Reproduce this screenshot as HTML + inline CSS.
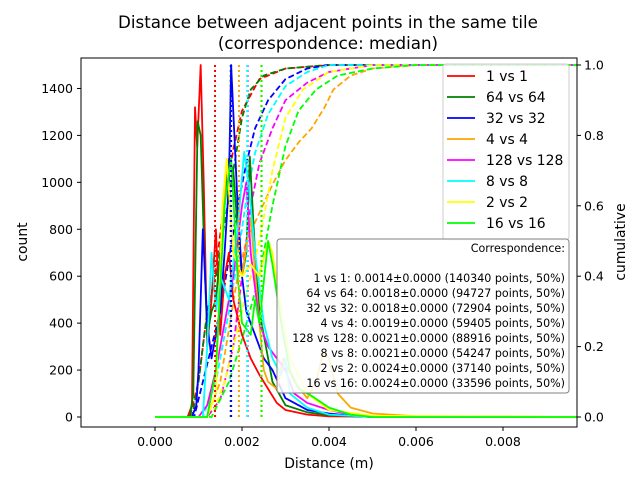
<!DOCTYPE html>
<html><head><meta charset="utf-8"><style>
body{margin:0;background:#fff;}
svg{font-family:"DejaVu Sans","Liberation Sans",sans-serif;}
</style></head><body>
<svg id="c" width="640" height="480" viewBox="0 0 640 480">
<rect width="640" height="480" fill="#fff"/>
<defs><clipPath id="clip"><rect x="81" y="58" width="496" height="369"/></clipPath></defs>
<text x="328" y="28" font-size="16.7" text-anchor="middle">Distance between adjacent points in the same tile</text>
<text x="328" y="49" font-size="16.7" text-anchor="middle">(correspondence: median)</text>
<g id="plot" clip-path="url(#clip)"></g>
<rect x="81" y="58" width="496" height="369" fill="none" stroke="#000" stroke-width="1"/>
<g id="axes"></g>
<text x="329" y="468" font-size="13.9" text-anchor="middle">Distance (m)</text>
<text transform="translate(27,242) rotate(-90)" font-size="13.9" text-anchor="middle">count</text>
<text transform="translate(625,242) rotate(-90)" font-size="13.9" text-anchor="middle">cumulative</text>
<g id="legend"></g>
<g id="annot"></g>
</svg>
<script>
const seriesNames=["1 vs 1","64 vs 64","32 vs 32","4 vs 4","128 vs 128","8 vs 8","2 vs 2","16 vs 16"];
const seriesColors=["#ff0000","#008000","#0000ff","#ffa500","#ff00ff","#00ffff","#ffff00","#00ff00"];
const xTicks=[0,0.002,0.004,0.006,0.008];
const xTickLabels=["0.000","0.002","0.004","0.006","0.008"];
const yTicks=[0,200,400,600,800,1000,1200,1400];
const y2Ticks=[0,0.2,0.4,0.6,0.8,1.0];
const y2TickLabels=["0.0","0.2","0.4","0.6","0.8","1.0"];
// histogram keypoints: [distance in mm, count]
const histRed=[[0,0],[0.75,0],[0.85,50],[0.92,1320],[0.97,1150],[1.05,1500],[1.12,1000],[1.2,300],[1.3,500],[1.4,800],[1.5,350],[1.6,600],[1.7,700],[1.8,500],[2.0,350],[2.2,250],[2.4,180],[2.6,120],[2.8,60],[3.0,30],[3.5,10],[4,3],[6,0],[9.7,0]];
const histGreen=[[0,0],[0.8,0],[0.88,100],[0.98,1260],[1.05,1200],[1.15,600],[1.2,350],[1.3,450],[1.4,500],[1.5,700],[1.6,900],[1.7,1100],[1.8,1050],[1.9,800],[2.0,600],[2.1,700],[2.18,1110],[2.3,700],[2.4,450],[2.55,300],[2.7,150],[3.0,50],[3.5,20],[4,8],[5,0],[9.7,0]];
const histBlue=[[0,0],[0.85,0],[0.95,50],[1.0,200],[1.1,800],[1.2,400],[1.3,250],[1.4,350],[1.5,450],[1.6,700],[1.7,1000],[1.75,1500],[1.8,1300],[1.9,900],[2.0,600],[2.1,450],[2.2,400],[2.3,350],[2.4,300],[2.5,250],[2.7,200],[3.0,80],[3.5,30],[4,15],[4.5,5],[5,0],[9.7,0]];
const histOrange=[[0,0],[1.2,0],[1.4,200],[1.55,800],[1.65,1100],[1.8,700],[2.0,600],[2.2,850],[2.35,500],[2.5,200],[2.6,150],[2.8,120],[2.95,250],[3.2,150],[3.5,80],[3.7,150],[3.87,275],[4.0,250],[4.2,100],[4.5,40],[5,15],[6,3],[9.7,0]];
const histMagenta=[[0,0],[1.0,0],[1.2,50],[1.4,200],[1.6,400],[1.8,600],[2.0,900],[2.1,1000],[2.2,700],[2.4,400],[2.6,300],[2.8,250],[3.0,200],[3.2,100],[3.5,60],[4,30],[4.5,10],[5,0],[9.7,0]];
const histCyan=[[0,0],[1.1,0],[1.2,300],[1.3,700],[1.4,450],[1.5,600],[1.7,500],[1.9,800],[2.05,1130],[2.15,1000],[2.3,700],[2.5,400],[2.7,250],[2.9,180],[3.0,250],[3.1,100],[3.5,40],[4,10],[5,0],[9.7,0]];
const histYellow=[[0,0],[1.2,0],[1.4,100],[1.55,900],[1.65,1100],[1.8,700],[2.0,600],[2.2,650],[2.4,600],[2.6,750],[2.7,700],[2.9,450],[3.1,250],[3.5,100],[4,30],[5,5],[9.7,0]];
const histLime=[[0,0],[1.2,0],[1.4,200],[1.6,900],[1.75,1100],[1.9,600],[2.0,400],[2.2,350],[2.3,500],[2.4,400],[2.6,750],[2.7,650],[2.9,400],[3.1,200],[3.3,120],[3.6,90],[4,40],[4.5,10],[5,0],[9.7,0]];
// cumulative keypoints: [distance in mm, fraction]
const cumRed=[[0,0],[0.8,0],[1.0,0.1],[1.15,0.25],[1.4,0.42],[1.6,0.62],[1.8,0.76],[2.0,0.87],[2.4,0.96],[3.0,0.99],[4,1],[9.7,1]];
const cumGreen=[[0,0],[0.85,0],[1.0,0.1],[1.2,0.3],[1.4,0.4],[1.6,0.55],[1.8,0.7],[2.0,0.85],[2.2,0.93],[2.5,0.97],[3,0.99],[4,1],[9.7,1]];
const cumBlue=[[0,0],[0.9,0],[1.1,0.1],[1.3,0.2],[1.5,0.3],[1.7,0.45],[1.9,0.6],[2.1,0.72],[2.3,0.82],[2.6,0.9],[3.0,0.96],[3.5,0.99],[4,1],[9.7,1]];
const cumOrange=[[0,0],[1.2,0],[1.5,0.1],[1.7,0.25],[1.9,0.4],[2.1,0.5],[2.4,0.58],[2.7,0.66],[3.0,0.73],[3.3,0.78],[3.6,0.82],[3.9,0.88],[4.1,0.93],[4.5,0.97],[5,0.99],[6,1],[9.7,1]];
const cumMagenta=[[0,0],[1.2,0],[1.5,0.05],[1.8,0.2],[2.0,0.4],[2.2,0.6],[2.4,0.72],[2.7,0.82],[3.0,0.9],[3.5,0.95],[4,0.98],[5,1],[9.7,1]];
const cumCyan=[[0,0],[1.1,0],[1.4,0.1],[1.7,0.3],[1.9,0.45],[2.1,0.62],[2.3,0.75],[2.6,0.86],[3,0.94],[3.5,0.98],[4,1],[9.7,1]];
const cumYellow=[[0,0],[1.3,0],[1.6,0.1],[2.0,0.3],[2.4,0.5],[2.7,0.7],[3.0,0.85],[3.4,0.93],[4,0.98],[5,1],[9.7,1]];
const cumLime=[[0,0],[1.3,0],[1.7,0.1],[2.0,0.22],[2.4,0.4],[2.7,0.6],[3.0,0.77],[3.3,0.87],[3.7,0.93],[4.2,0.97],[5,0.99],[6,1],[9.7,1]];
const medianPos=[1.38,1.74,1.75,1.93,2.13,2.12,2.44,2.45];
const annotLines=["1 vs 1: 0.0014±0.0000 (140340 points, 50%)","64 vs 64: 0.0018±0.0000 (94727 points, 50%)","32 vs 32: 0.0018±0.0000 (72904 points, 50%)","4 vs 4: 0.0019±0.0000 (59405 points, 50%)","128 vs 128: 0.0021±0.0000 (88916 points, 50%)","8 vs 8: 0.0021±0.0000 (54247 points, 50%)","2 vs 2: 0.0024±0.0000 (37140 points, 50%)","16 vs 16: 0.0024±0.0000 (33596 points, 50%)"];

const hists=[histRed,histGreen,histBlue,histOrange,histMagenta,histCyan,histYellow,histLime];
const cums=[cumRed,cumGreen,cumBlue,cumOrange,cumMagenta,cumCyan,cumYellow,cumLime];
const NS="http://www.w3.org/2000/svg";
function X(m){return 155+(m/0.002)*87;}
function Y(c){return 417-c*(352/1500);}
function Y2(f){return 417-f*352;}
function mk(tag,at,parent){const e=document.createElementNS(NS,tag);for(const k in at)e.setAttribute(k,at[k]);parent.appendChild(e);return e;}
const plot=document.getElementById('plot');
const axes=document.getElementById('axes');
cums.forEach((s,i)=>{
 const p=mk('polyline',{points:s.map(d=>X(d[0]/1000)+','+Y2(d[1])).join(' '),fill:'none',stroke:seriesColors[i],'stroke-width':1.8,'stroke-dasharray':'6,3'},plot);
 
 
});
hists.forEach((s,i)=>{
 const p=mk('polyline',{points:s.map(d=>X(d[0]/1000)+','+Y(d[1])).join(' '),fill:'none',stroke:seriesColors[i],'stroke-width':1.8,'stroke-linejoin':'round'},plot);
 
 
});
medianPos.forEach((m,i)=>{
 const l=mk('line',{x1:X(m/1000),x2:X(m/1000),y1:Y2(0),y2:Y2(1),stroke:seriesColors[i],'stroke-width':2,'stroke-dasharray':'2,3'},plot);
 
 
});
xTicks.forEach((t,i)=>{
 const x=X(t);
 mk('line',{x1:x,x2:x,y1:427,y2:431,stroke:'#000'},axes);
 const tx=mk('text',{x:x,y:446,'font-size':12.5,'text-anchor':'middle'},axes);tx.textContent=xTickLabels[i];
 
 
});
yTicks.forEach(t=>{
 const y=Y(t);
 mk('line',{x1:77,x2:81,y1:y,y2:y,stroke:'#000'},axes);
 const tx=mk('text',{x:73,y:y+4.5,'font-size':12.5,'text-anchor':'end'},axes);tx.textContent=t;
 
 
});
y2Ticks.forEach((t,i)=>{
 const y=Y2(t);
 mk('line',{x1:577,x2:581,y1:y,y2:y,stroke:'#000'},axes);
 const tx=mk('text',{x:584,y:y+4.5,'font-size':12.5},axes);tx.textContent=y2TickLabels[i];
 
 
});
const lg=document.getElementById('legend');
mk('rect',{x:443,y:64,width:126,height:176,rx:3,fill:'#fff','fill-opacity':0.8,stroke:'#ccc'},lg);
seriesNames.forEach((n,i)=>{
 const y=76+i*21;
 const l=mk('line',{x1:447,x2:475,y1:y,y2:y,stroke:seriesColors[i],'stroke-width':1.8},lg);
 
 
 const t=mk('text',{x:486,y:y+5,'font-size':13.9},lg);t.textContent=n;
 
 
});
const an=document.getElementById('annot');
mk('rect',{x:277,y:239,width:292,height:154,rx:3,fill:'#fff','fill-opacity':0.85,stroke:'#808080'},an);
const h=mk('text',{x:565,y:252,'font-size':11.1,'text-anchor':'end'},an);h.textContent="Correspondence:";
annotLines.forEach((s,i)=>{
 const t=mk('text',{x:565,y:282+i*15,'font-size':11.1,'text-anchor':'end'},an);t.textContent=s;
 
 
});
</script>
</body></html>
